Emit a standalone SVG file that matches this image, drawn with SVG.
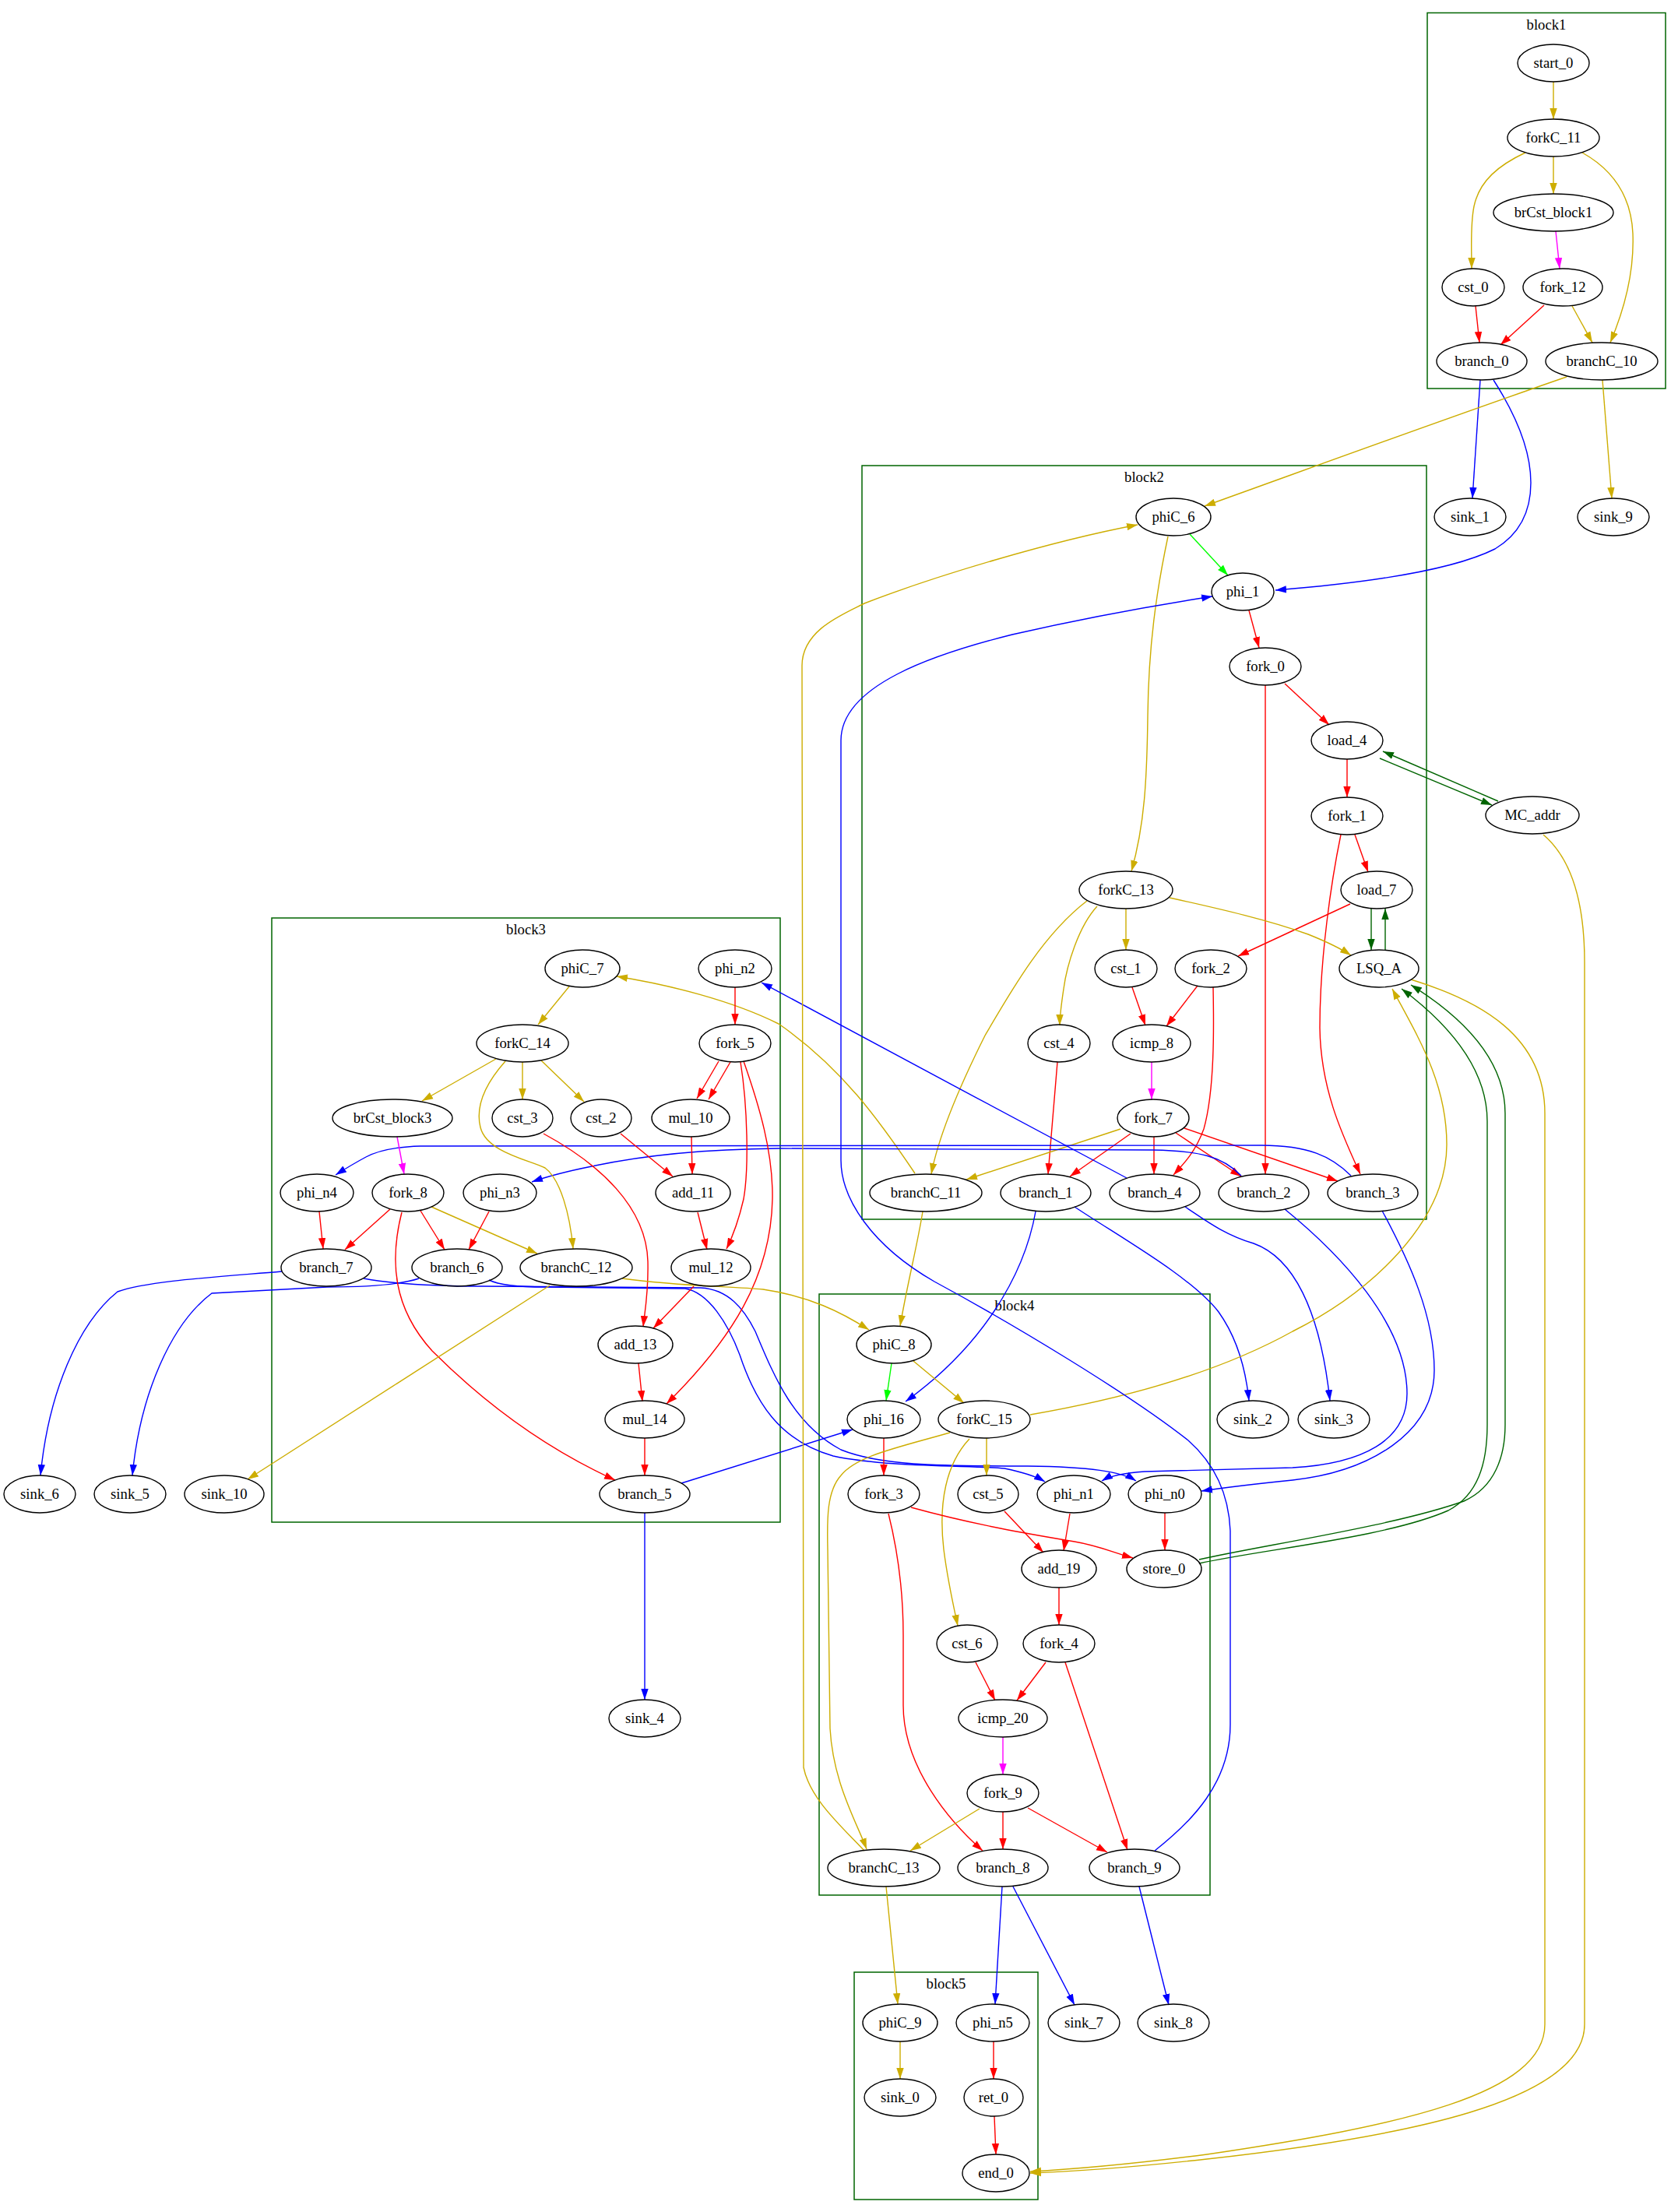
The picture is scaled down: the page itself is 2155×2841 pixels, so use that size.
<svg xmlns="http://www.w3.org/2000/svg" width="2155" height="2841" viewBox="0 0 2155 2841">
<style>
  .n ellipse { fill: none; stroke: #000; stroke-width: 1.4; }
  text { font-family: "Liberation Serif", "Times New Roman", serif; font-size: 18.67px; text-anchor: middle; fill: #000; }
  .cl rect { fill: none; stroke: #006400; stroke-width: 1.5; }
  #edges path { fill: none; stroke-width: 1.4; }
  .gd { stroke: #CDAD00; marker-end: url(#a-gd); }
  .rd { stroke: #FF0000; marker-end: url(#a-rd); }
  .bl { stroke: #0000FF; marker-end: url(#a-bl); }
  .mg { stroke: #FF00FF; marker-end: url(#a-mg); }
  .gr { stroke: #00FF00; marker-end: url(#a-gr); }
  .dg { stroke: #006400; marker-end: url(#a-dg); }
</style>
<defs>
  <marker id="a-gd" viewBox="0 0 14 10" refX="14" refY="5" markerWidth="14" markerHeight="10" markerUnits="userSpaceOnUse" orient="auto"><path d="M0,0.3 L14,5 L0,9.7 z" fill="#CDAD00"/></marker>
  <marker id="a-rd" viewBox="0 0 14 10" refX="14" refY="5" markerWidth="14" markerHeight="10" markerUnits="userSpaceOnUse" orient="auto"><path d="M0,0.3 L14,5 L0,9.7 z" fill="#FF0000"/></marker>
  <marker id="a-bl" viewBox="0 0 14 10" refX="14" refY="5" markerWidth="14" markerHeight="10" markerUnits="userSpaceOnUse" orient="auto"><path d="M0,0.3 L14,5 L0,9.7 z" fill="#0000FF"/></marker>
  <marker id="a-mg" viewBox="0 0 14 10" refX="14" refY="5" markerWidth="14" markerHeight="10" markerUnits="userSpaceOnUse" orient="auto"><path d="M0,0.3 L14,5 L0,9.7 z" fill="#FF00FF"/></marker>
  <marker id="a-gr" viewBox="0 0 14 10" refX="14" refY="5" markerWidth="14" markerHeight="10" markerUnits="userSpaceOnUse" orient="auto"><path d="M0,0.3 L14,5 L0,9.7 z" fill="#00FF00"/></marker>
  <marker id="a-dg" viewBox="0 0 14 10" refX="14" refY="5" markerWidth="14" markerHeight="10" markerUnits="userSpaceOnUse" orient="auto"><path d="M0,0.3 L14,5 L0,9.7 z" fill="#006400"/></marker>
</defs>
<rect width="2155" height="2841" fill="#fff"/>

<!-- basic-block clusters -->
<g id="clusters" class="cl">
  <g id="block1"><rect x="1833" y="16.5" width="306" height="482.5"/><text x="1986" y="38">block1</text></g>
  <g id="block2"><rect x="1107" y="598" width="725" height="968"/><text x="1469.5" y="619">block2</text></g>
  <g id="block3"><rect x="349" y="1179" width="653" height="776"/><text x="675.5" y="1200">block3</text></g>
  <g id="block4"><rect x="1052" y="1662" width="502" height="772"/><text x="1303" y="1683">block4</text></g>
  <g id="block5"><rect x="1097" y="2533" width="236" height="292"/><text x="1215" y="2554">block5</text></g>
</g>

<!-- connectors -->
<g id="edges">
  <!-- block1 -->
  <path class="gd" d="M1995,105 L1995,153"/>
  <path class="gd" d="M1995,201 L1995,249"/>
  <path class="gd" d="M1959,196 C1925,212 1900,232 1893,265 C1888,290 1890,320 1890,345"/>
  <path class="gd" d="M2032,196 C2075,220 2095,255 2097,300 C2099,350 2085,400 2068,440"/>
  <path class="mg" d="M1998,297 L2003,345"/>
  <path class="rd" d="M1895,393 L1900,440"/>
  <path class="rd" d="M1983,392 L1927,443"/>
  <path class="gd" d="M2019,393 L2045,440"/>
  <path class="bl" d="M1901,488 L1891,640"/>
  <path class="bl" d="M1918,488 C1945,530 1966,575 1966,620 C1966,665 1945,690 1920,705 C1880,725 1800,745 1638,758"/>
  <path class="gd" d="M2058,488 L2070,640"/>
  <path class="gd" d="M2012,484 C1850,540 1700,595 1547,650"/>

  <!-- block2 -->
  <path class="gr" d="M1528,686 L1577,739"/>
  <path class="gd" d="M1500,689 C1485,760 1475,830 1474,920 C1473,1000 1470,1060 1453,1119"/>
  <path class="rd" d="M1604,784 L1617,832"/>
  <path class="rd" d="M1650,878 L1707,931"/>
  <path class="rd" d="M1625,880 L1625,1508"/>
  <path class="rd" d="M1730,975 L1730,1024"/>
  <path class="dg" d="M1772,974 L1916,1034"/>
  <path class="dg" d="M1924,1029 L1776,965"/>
  <path class="rd" d="M1740,1072 L1757,1120"/>
  <path class="rd" d="M1722,1072 C1710,1130 1695,1230 1695,1320 C1696,1400 1725,1460 1747,1508"/>
  <path class="dg" d="M1761,1167 L1761,1220"/>
  <path class="dg" d="M1779,1220 L1779,1167"/>
  <path class="rd" d="M1734,1161 L1590,1228"/>
  <path class="gd" d="M1502,1153 C1570,1168 1630,1182 1680,1200 C1700,1208 1720,1217 1735,1227"/>
  <path class="gd" d="M1446,1167 L1446,1220"/>
  <path class="gd" d="M1409,1164 C1385,1190 1370,1240 1366,1270 C1363,1290 1361,1305 1361,1317"/>
  <path class="gd" d="M1396,1157 C1340,1200 1300,1270 1265,1330 C1230,1400 1205,1460 1196,1508"/>
  <path class="rd" d="M1454,1268 L1471,1317"/>
  <path class="rd" d="M1538,1266 L1498,1318"/>
  <path class="rd" d="M1558,1268 C1559,1320 1560,1400 1546,1450 C1535,1480 1520,1495 1507,1509"/>
  <path class="rd" d="M1358,1364 L1346,1508"/>
  <path class="mg" d="M1479,1364 L1479,1412"/>
  <path class="gd" d="M1439,1450 L1241,1515"/>
  <path class="rd" d="M1452,1456 L1374,1511"/>
  <path class="rd" d="M1482,1460 L1482,1508"/>
  <path class="rd" d="M1510,1455 L1594,1511"/>
  <path class="rd" d="M1521,1449 L1718,1517"/>
  <path class="gd" d="M1175,1507 C1130,1440 1080,1370 1000,1315 C940,1285 860,1265 792,1254"/>
  <path class="gd" d="M1185,1556 C1178,1600 1165,1650 1156,1703"/>
  <path class="bl" d="M1330,1556 C1315,1640 1260,1730 1163,1800"/>
  <path class="bl" d="M1380,1550 C1440,1590 1530,1640 1565,1685 C1590,1720 1600,1760 1604,1799"/>
  <path class="bl" d="M1522,1550 C1545,1565 1570,1585 1610,1597 C1660,1615 1695,1680 1708,1799"/>
  <path class="bl" d="M1447,1513 C1300,1435 1100,1327 978,1262"/>
  <path class="bl" d="M1650,1553 C1720,1610 1807,1700 1807,1790 C1807,1850 1750,1880 1660,1885 L1470,1890 C1440,1892 1425,1896 1415,1902"/>
  <path class="bl" d="M1775,1555 C1810,1620 1842,1690 1842,1760 C1842,1840 1760,1890 1660,1901 C1600,1907 1570,1911 1543,1915"/>
  <path class="bl" d="M1735,1510 C1710,1485 1680,1471 1620,1471 L540,1472 C505,1473 485,1478 470,1486 C455,1494 442,1502 431,1509"/>
  <path class="bl" d="M1594,1510 C1570,1485 1540,1478 1480,1477 L1000,1475 C900,1476 820,1485 760,1498 C720,1506 700,1512 683,1518"/>

  <!-- block3 -->
  <path class="bl" d="M875,1905 L1095,1836"/>
  <path class="bl" d="M362,1633 C280,1640 190,1645 151,1659 C100,1700 62,1790 52,1895"/>
  <path class="bl" d="M538,1642 C520,1648 480,1653 420,1653 L272,1661 C220,1700 180,1790 170,1895"/>
  <path class="bl" d="M467,1642 C500,1648 540,1652 620,1652 L900,1654 C935,1656 955,1680 970,1710 C995,1770 1020,1830 1080,1862 C1130,1882 1200,1883 1320,1883 C1400,1884 1440,1890 1459,1902"/>
  <path class="bl" d="M628,1644 C640,1650 660,1653 700,1653 L880,1655 C910,1660 935,1700 950,1740 C970,1800 1000,1850 1070,1870 C1140,1885 1250,1882 1290,1886 C1310,1890 1330,1896 1342,1903"/>
  <path class="gd" d="M731,1267 L691,1316"/>
  <path class="rd" d="M944,1268 L944,1316"/>
  <path class="gd" d="M637,1360 L542,1414"/>
  <path class="gd" d="M671,1364 L671,1412"/>
  <path class="gd" d="M695,1362 L750,1415"/>
  <path class="gd" d="M649,1363 C625,1390 610,1420 617,1448 C625,1480 680,1490 700,1500 C720,1515 732,1560 736,1604"/>
  <path class="mg" d="M510,1460 L519,1508"/>
  <path class="rd" d="M698,1456 C770,1495 830,1550 832,1620 C833,1660 828,1685 826,1704"/>
  <path class="rd" d="M797,1456 L864,1511"/>
  <path class="rd" d="M923,1363 L895,1411"/>
  <path class="rd" d="M938,1364 L910,1412"/>
  <path class="rd" d="M951,1364 C960,1420 962,1500 955,1540 C948,1570 940,1590 933,1604"/>
  <path class="rd" d="M955,1363 C975,1420 993,1480 992,1540 C990,1640 940,1720 856,1803"/>
  <path class="rd" d="M888,1460 L889,1508"/>
  <path class="rd" d="M410,1556 L415,1604"/>
  <path class="rd" d="M501,1553 L443,1605"/>
  <path class="rd" d="M540,1555 L571,1605"/>
  <path class="gd" d="M554,1550 L690,1610"/>
  <path class="rd" d="M516,1557 C500,1620 505,1680 555,1735 C620,1800 700,1860 790,1901"/>
  <path class="rd" d="M628,1556 L602,1605"/>
  <path class="rd" d="M896,1557 L908,1605"/>
  <path class="rd" d="M891,1652 L839,1706"/>
  <path class="rd" d="M820,1751 L825,1800"/>
  <path class="rd" d="M828,1847 L828,1895"/>
  <path class="gd" d="M706,1651 L318,1900"/>
  <path class="gd" d="M799,1642 C870,1652 940,1652 980,1656 C1040,1665 1080,1685 1116,1708"/>
  <path class="bl" d="M828,1943 L828,2183"/>

  <!-- block4 -->
  <path class="gr" d="M1145,1751 L1138,1799"/>
  <path class="gd" d="M1173,1748 L1238,1802"/>
  <path class="rd" d="M1135,1847 L1135,1895"/>
  <path class="gd" d="M1267,1847 L1267,1895"/>
  <path class="gd" d="M1245,1848 C1215,1880 1205,1930 1212,1990 C1217,2030 1224,2060 1230,2088"/>
  <path class="gd" d="M1220,1840 C1150,1860 1100,1870 1080,1895 C1062,1915 1062,1950 1063,1990 L1066,2220 C1070,2290 1100,2340 1113,2375"/>
  <path class="gd" d="M1323,1817 C1450,1795 1570,1760 1660,1710 C1760,1660 1858,1570 1858,1470 C1858,1390 1820,1330 1788,1270"/>
  <path class="rd" d="M1170,1936 C1250,1958 1320,1970 1380,1980 C1410,1985 1430,1994 1455,2001"/>
  <path class="rd" d="M1141,1944 C1155,2000 1160,2050 1160,2100 L1160,2190 C1160,2270 1220,2340 1262,2377"/>
  <path class="rd" d="M1290,1941 L1340,1994"/>
  <path class="rd" d="M1374,1944 L1366,1992"/>
  <path class="rd" d="M1496,1943 L1496,1991"/>
  <path class="dg" d="M1540,2008 C1620,1990 1780,1975 1860,1940 C1898,1920 1910,1880 1910,1830 L1910,1440 C1910,1360 1840,1300 1800,1270"/>
  <path class="dg" d="M1540,2003 C1620,1985 1790,1960 1880,1928 C1920,1910 1933,1870 1933,1830 L1933,1430 C1933,1350 1860,1295 1812,1265"/>
  <path class="rd" d="M1360,2039 L1360,2087"/>
  <path class="rd" d="M1253,2135 L1278,2184"/>
  <path class="rd" d="M1343,2135 L1306,2184"/>
  <path class="rd" d="M1368,2135 L1448,2376"/>
  <path class="mg" d="M1288,2231 L1288,2279"/>
  <path class="gd" d="M1258,2323 L1169,2377"/>
  <path class="rd" d="M1288,2327 L1288,2375"/>
  <path class="rd" d="M1320,2322 L1422,2379"/>
  <path class="gd" d="M1110,2377 C1080,2345 1040,2310 1032,2270 L1030,855 C1030,810 1080,790 1110,775 C1200,740 1350,695 1461,674"/>
  <path class="bl" d="M1483,2377 C1530,2340 1580,2290 1580,2215 L1580,1966 C1578,1920 1560,1880 1526,1850 C1450,1790 1300,1700 1200,1646 C1120,1600 1080,1540 1080,1490 L1080,951 C1080,880 1200,840 1300,815 C1400,792 1480,778 1557,766"/>

  <!-- exits and block5 -->
  <path class="bl" d="M1287,2423 L1278,2574"/>
  <path class="bl" d="M1301,2423 L1380,2575"/>
  <path class="bl" d="M1463,2423 L1501,2575"/>
  <path class="gd" d="M1138,2423 L1153,2574"/>
  <path class="gd" d="M1156,2622 L1156,2670"/>
  <path class="rd" d="M1276,2622 L1276,2670"/>
  <path class="rd" d="M1277,2718 L1279,2767"/>
  <path class="gd" d="M1812,1258 C1900,1285 1984,1330 1984,1430 L1984,2600 C1984,2690 1800,2730 1550,2767 C1450,2780 1380,2786 1323,2789"/>
  <path class="gd" d="M1982,1072 C2015,1100 2035,1150 2035,1236 L2035,2600 C2035,2700 1800,2745 1550,2773 C1450,2784 1380,2789 1323,2791"/>
</g>

<!-- nodes -->
<g id="nodes" class="n">
  <g id="start_0"><ellipse cx="1995" cy="81" rx="46" ry="24"/><text x="1995" y="87">start_0</text></g>
  <g id="forkC_11"><ellipse cx="1995" cy="177" rx="59" ry="24"/><text x="1995" y="183">forkC_11</text></g>
  <g id="brCst_block1"><ellipse cx="1995" cy="273" rx="77" ry="24"/><text x="1995" y="279">brCst_block1</text></g>
  <g id="cst_0"><ellipse cx="1892" cy="369" rx="40" ry="24"/><text x="1892" y="375">cst_0</text></g>
  <g id="fork_12"><ellipse cx="2007" cy="369" rx="51" ry="24"/><text x="2007" y="375">fork_12</text></g>
  <g id="branch_0"><ellipse cx="1903" cy="464" rx="58" ry="24"/><text x="1903" y="470">branch_0</text></g>
  <g id="branchC_10"><ellipse cx="2057" cy="464" rx="72" ry="24"/><text x="2057" y="470">branchC_10</text></g>
  <g id="sink_1"><ellipse cx="1888" cy="664" rx="46" ry="24"/><text x="1888" y="670">sink_1</text></g>
  <g id="sink_9"><ellipse cx="2072" cy="664" rx="46" ry="24"/><text x="2072" y="670">sink_9</text></g>

  <g id="phiC_6"><ellipse cx="1507" cy="664" rx="48" ry="24"/><text x="1507" y="670">phiC_6</text></g>
  <g id="phi_1"><ellipse cx="1596" cy="760" rx="40" ry="24"/><text x="1596" y="766">phi_1</text></g>
  <g id="fork_0"><ellipse cx="1625" cy="856" rx="46" ry="24"/><text x="1625" y="862">fork_0</text></g>
  <g id="load_4"><ellipse cx="1730" cy="951" rx="46" ry="24"/><text x="1730" y="957">load_4</text></g>
  <g id="fork_1"><ellipse cx="1730" cy="1048" rx="46" ry="24"/><text x="1730" y="1054">fork_1</text></g>
  <g id="MC_addr"><ellipse cx="1968" cy="1047" rx="60" ry="24"/><text x="1968" y="1053">MC_addr</text></g>
  <g id="forkC_13"><ellipse cx="1446" cy="1143" rx="60" ry="24"/><text x="1446" y="1149">forkC_13</text></g>
  <g id="load_7"><ellipse cx="1768" cy="1143" rx="46" ry="24"/><text x="1768" y="1149">load_7</text></g>
  <g id="cst_1"><ellipse cx="1446" cy="1244" rx="40" ry="24"/><text x="1446" y="1250">cst_1</text></g>
  <g id="fork_2"><ellipse cx="1555" cy="1244" rx="46" ry="24"/><text x="1555" y="1250">fork_2</text></g>
  <g id="LSQ_A"><ellipse cx="1771" cy="1244" rx="51" ry="24"/><text x="1771" y="1250">LSQ_A</text></g>
  <g id="cst_4"><ellipse cx="1360" cy="1340" rx="40" ry="24"/><text x="1360" y="1346">cst_4</text></g>
  <g id="icmp_8"><ellipse cx="1479" cy="1340" rx="50" ry="24"/><text x="1479" y="1346">icmp_8</text></g>
  <g id="fork_7"><ellipse cx="1481" cy="1436" rx="46" ry="24"/><text x="1481" y="1442">fork_7</text></g>
  <g id="branchC_11"><ellipse cx="1189" cy="1532" rx="72" ry="24"/><text x="1189" y="1538">branchC_11</text></g>
  <g id="branch_1"><ellipse cx="1343" cy="1532" rx="58" ry="24"/><text x="1343" y="1538">branch_1</text></g>
  <g id="branch_4"><ellipse cx="1483" cy="1532" rx="58" ry="24"/><text x="1483" y="1538">branch_4</text></g>
  <g id="branch_2"><ellipse cx="1623" cy="1532" rx="58" ry="24"/><text x="1623" y="1538">branch_2</text></g>
  <g id="branch_3"><ellipse cx="1763" cy="1532" rx="58" ry="24"/><text x="1763" y="1538">branch_3</text></g>
  <g id="sink_2"><ellipse cx="1609" cy="1823" rx="46" ry="24"/><text x="1609" y="1829">sink_2</text></g>
  <g id="sink_3"><ellipse cx="1713" cy="1823" rx="46" ry="24"/><text x="1713" y="1829">sink_3</text></g>

  <g id="phiC_7"><ellipse cx="748" cy="1244" rx="48" ry="24"/><text x="748" y="1250">phiC_7</text></g>
  <g id="phi_n2"><ellipse cx="944" cy="1244" rx="47" ry="24"/><text x="944" y="1250">phi_n2</text></g>
  <g id="forkC_14"><ellipse cx="671" cy="1340" rx="59" ry="24"/><text x="671" y="1346">forkC_14</text></g>
  <g id="fork_5"><ellipse cx="944" cy="1340" rx="46" ry="24"/><text x="944" y="1346">fork_5</text></g>
  <g id="brCst_block3"><ellipse cx="504" cy="1436" rx="77" ry="24"/><text x="504" y="1442">brCst_block3</text></g>
  <g id="cst_3"><ellipse cx="671" cy="1436" rx="39" ry="24"/><text x="671" y="1442">cst_3</text></g>
  <g id="cst_2"><ellipse cx="772" cy="1436" rx="39" ry="24"/><text x="772" y="1442">cst_2</text></g>
  <g id="mul_10"><ellipse cx="887" cy="1436" rx="50" ry="24"/><text x="887" y="1442">mul_10</text></g>
  <g id="phi_n4"><ellipse cx="407" cy="1532" rx="47" ry="24"/><text x="407" y="1538">phi_n4</text></g>
  <g id="fork_8"><ellipse cx="524" cy="1532" rx="46" ry="24"/><text x="524" y="1538">fork_8</text></g>
  <g id="phi_n3"><ellipse cx="642" cy="1532" rx="47" ry="24"/><text x="642" y="1538">phi_n3</text></g>
  <g id="add_11"><ellipse cx="890" cy="1532" rx="48" ry="24"/><text x="890" y="1538">add_11</text></g>
  <g id="branch_7"><ellipse cx="419" cy="1628" rx="58" ry="24"/><text x="419" y="1634">branch_7</text></g>
  <g id="branch_6"><ellipse cx="587" cy="1628" rx="58" ry="24"/><text x="587" y="1634">branch_6</text></g>
  <g id="branchC_12"><ellipse cx="740" cy="1628" rx="72" ry="24"/><text x="740" y="1634">branchC_12</text></g>
  <g id="mul_12"><ellipse cx="913" cy="1628" rx="51" ry="24"/><text x="913" y="1634">mul_12</text></g>
  <g id="add_13"><ellipse cx="816" cy="1727" rx="48" ry="24"/><text x="816" y="1733">add_13</text></g>
  <g id="mul_14"><ellipse cx="828" cy="1823" rx="51" ry="24"/><text x="828" y="1829">mul_14</text></g>
  <g id="branch_5"><ellipse cx="828" cy="1919" rx="58" ry="24"/><text x="828" y="1925">branch_5</text></g>
  <g id="sink_6"><ellipse cx="51" cy="1919" rx="46" ry="24"/><text x="51" y="1925">sink_6</text></g>
  <g id="sink_5"><ellipse cx="167" cy="1919" rx="46" ry="24"/><text x="167" y="1925">sink_5</text></g>
  <g id="sink_10"><ellipse cx="288" cy="1919" rx="51" ry="24"/><text x="288" y="1925">sink_10</text></g>
  <g id="sink_4"><ellipse cx="828" cy="2207" rx="46" ry="24"/><text x="828" y="2213">sink_4</text></g>

  <g id="phiC_8"><ellipse cx="1148" cy="1727" rx="48" ry="24"/><text x="1148" y="1733">phiC_8</text></g>
  <g id="phi_16"><ellipse cx="1135" cy="1823" rx="47" ry="24"/><text x="1135" y="1829">phi_16</text></g>
  <g id="forkC_15"><ellipse cx="1264" cy="1823" rx="59" ry="24"/><text x="1264" y="1829">forkC_15</text></g>
  <g id="fork_3"><ellipse cx="1135" cy="1919" rx="46" ry="24"/><text x="1135" y="1925">fork_3</text></g>
  <g id="cst_5"><ellipse cx="1269" cy="1919" rx="39" ry="24"/><text x="1269" y="1925">cst_5</text></g>
  <g id="phi_n1"><ellipse cx="1379" cy="1919" rx="47" ry="24"/><text x="1379" y="1925">phi_n1</text></g>
  <g id="phi_n0"><ellipse cx="1496" cy="1919" rx="47" ry="24"/><text x="1496" y="1925">phi_n0</text></g>
  <g id="add_19"><ellipse cx="1360" cy="2015" rx="48" ry="24"/><text x="1360" y="2021">add_19</text></g>
  <g id="store_0"><ellipse cx="1495" cy="2015" rx="48" ry="24"/><text x="1495" y="2021">store_0</text></g>
  <g id="cst_6"><ellipse cx="1242" cy="2111" rx="39" ry="24"/><text x="1242" y="2117">cst_6</text></g>
  <g id="fork_4"><ellipse cx="1360" cy="2111" rx="46" ry="24"/><text x="1360" y="2117">fork_4</text></g>
  <g id="icmp_20"><ellipse cx="1288" cy="2207" rx="57" ry="24"/><text x="1288" y="2213">icmp_20</text></g>
  <g id="fork_9"><ellipse cx="1288" cy="2303" rx="46" ry="24"/><text x="1288" y="2309">fork_9</text></g>
  <g id="branchC_13"><ellipse cx="1135" cy="2399" rx="72" ry="24"/><text x="1135" y="2405">branchC_13</text></g>
  <g id="branch_8"><ellipse cx="1288" cy="2399" rx="58" ry="24"/><text x="1288" y="2405">branch_8</text></g>
  <g id="branch_9"><ellipse cx="1457" cy="2399" rx="58" ry="24"/><text x="1457" y="2405">branch_9</text></g>

  <g id="phiC_9"><ellipse cx="1156" cy="2598" rx="48" ry="24"/><text x="1156" y="2604">phiC_9</text></g>
  <g id="phi_n5"><ellipse cx="1275" cy="2598" rx="47" ry="24"/><text x="1275" y="2604">phi_n5</text></g>
  <g id="sink_7"><ellipse cx="1392" cy="2598" rx="46" ry="24"/><text x="1392" y="2604">sink_7</text></g>
  <g id="sink_8"><ellipse cx="1507" cy="2598" rx="46" ry="24"/><text x="1507" y="2604">sink_8</text></g>
  <g id="sink_0"><ellipse cx="1156" cy="2694" rx="46" ry="24"/><text x="1156" y="2700">sink_0</text></g>
  <g id="ret_0"><ellipse cx="1276" cy="2694" rx="38" ry="24"/><text x="1276" y="2700">ret_0</text></g>
  <g id="end_0"><ellipse cx="1279" cy="2791" rx="43" ry="24"/><text x="1279" y="2797">end_0</text></g>
</g>
</svg>
